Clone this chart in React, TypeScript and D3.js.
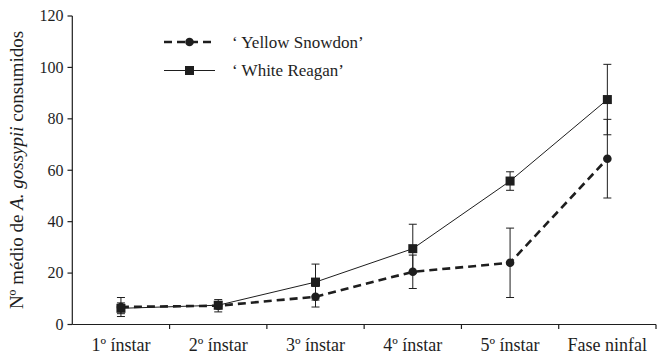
import * as d3 from "d3";

const categories = ["1º ínstar", "2º ínstar", "3º ínstar", "4º ínstar", "5º ínstar", "Fase ninfal"];
const yellowMean = [6.8, 7.3, 10.8, 20.5, 24.0, 64.5];
const yellowErr = [3.7, 2.4, 4.0, 6.5, 13.5, 15.3];
const whiteMean = [6.3, 7.5, 16.5, 29.5, 55.8, 87.5];
const whiteErr = [2.1, 1.4, 7.0, 9.5, 3.6, 13.7];
const yTicks = [0, 20, 40, 60, 80, 100, 120];

const W = 657;
const H = 359;
const ink = "#1e1e1e";
const font = "'Liberation Serif', 'Times New Roman', serif";

export default function App() {
  const x = d3.scaleBand<string>().domain(categories).range([72.3, 656]).padding(0);
  const y = d3.scaleLinear().domain([0, 120]).range([324.5, 16]);
  const cx = (c: string) => (x(c) ?? 0) + x.bandwidth() / 2;

  const line = d3.line<number>()
    .x((_, i) => cx(categories[i]))
    .y(d => y(d));

  // vertical bar with caps for each point
  const errBars = (mean: number[], err: number[], key: string) =>
    mean.map((m, i) => {
      const px = cx(categories[i]);
      const top = y(m + err[i]);
      const bot = y(m - err[i]);
      return (
        <g key={key + i} stroke={ink} strokeWidth={1}>
          <line x1={px} x2={px} y1={top} y2={bot} />
          <line x1={px - 4} x2={px + 4} y1={top} y2={top} />
          <line x1={px - 4} x2={px + 4} y1={bot} y2={bot} />
        </g>
      );
    });

  const ticksX = [...categories.map(c => x(c) ?? 0), 656].slice(1);

  return (
    <div style={{ position: "absolute", left: 0, top: 0 }}>
      <svg width={W} height={H} style={{ display: "block", background: "#fff" }}>
        {errBars(whiteMean, whiteErr, "w")}
        {errBars(yellowMean, yellowErr, "y")}

        <path d={line(whiteMean) ?? ""} fill="none" stroke={ink} strokeWidth={1} />
        <path d={line(yellowMean) ?? ""} fill="none" stroke={ink} strokeWidth={2.6} strokeDasharray="8,5" />

        {whiteMean.map((v, i) => (
          <rect key={"ws" + i} x={cx(categories[i]) - 4.5} y={y(v) - 4.5} width={9} height={9} fill={ink} />
        ))}
        {yellowMean.map((v, i) => (
          <circle key={"yc" + i} cx={cx(categories[i])} cy={y(v)} r={4.3} fill={ink} />
        ))}

        {/* y axis */}
        <line x1={72.3} x2={72.3} y1={16} y2={324.5} stroke={ink} strokeWidth={1.2} />
        {yTicks.map(t => (
          <g key={"yt" + t}>
            <line x1={67.5} x2={72.3} y1={y(t)} y2={y(t)} stroke={ink} strokeWidth={1.2} />
            <text x={63.5} y={y(t)} dy="0.33em" textAnchor="end" fontFamily={font} fontSize={16} fill={ink}>
              {t}
            </text>
          </g>
        ))}

        {/* x axis */}
        <line x1={72.3} x2={656} y1={324.5} y2={324.5} stroke={ink} strokeWidth={1.2} />
        {ticksX.map((t, i) => (
          <line key={"xt" + i} x1={t} x2={t} y1={324.5} y2={329} stroke={ink} strokeWidth={1.2} />
        ))}
        {categories.map(c => (
          <text key={c} x={cx(c)} y={351} textAnchor="middle" fontFamily={font} fontSize={18} fill={ink}>
            {c}
          </text>
        ))}

        <text
          transform="translate(23,170) rotate(-90)"
          textAnchor="middle"
          fontFamily={font}
          fontSize={19}
          fill={ink}
        >
          Nº médio de <tspan fontStyle="italic">A. gossypii</tspan> consumidos
        </text>

        {/* legend */}
        <g>
          <line x1={164} x2={215} y1={42} y2={42} stroke={ink} strokeWidth={2.6} strokeDasharray="8,5" />
          <circle cx={189.5} cy={42} r={4.3} fill={ink} />
          <text x={232} y={42} dy="0.35em" fontFamily={font} fontSize={17} fill={ink}>‘ Yellow Snowdon’</text>
          <line x1={164} x2={215} y1={70.5} y2={70.5} stroke={ink} strokeWidth={1} />
          <rect x={185} y={66} width={9} height={9} fill={ink} />
          <text x={232} y={70.5} dy="0.35em" fontFamily={font} fontSize={17} fill={ink}>‘ White Reagan’</text>
        </g>
      </svg>
    </div>
  );
}
